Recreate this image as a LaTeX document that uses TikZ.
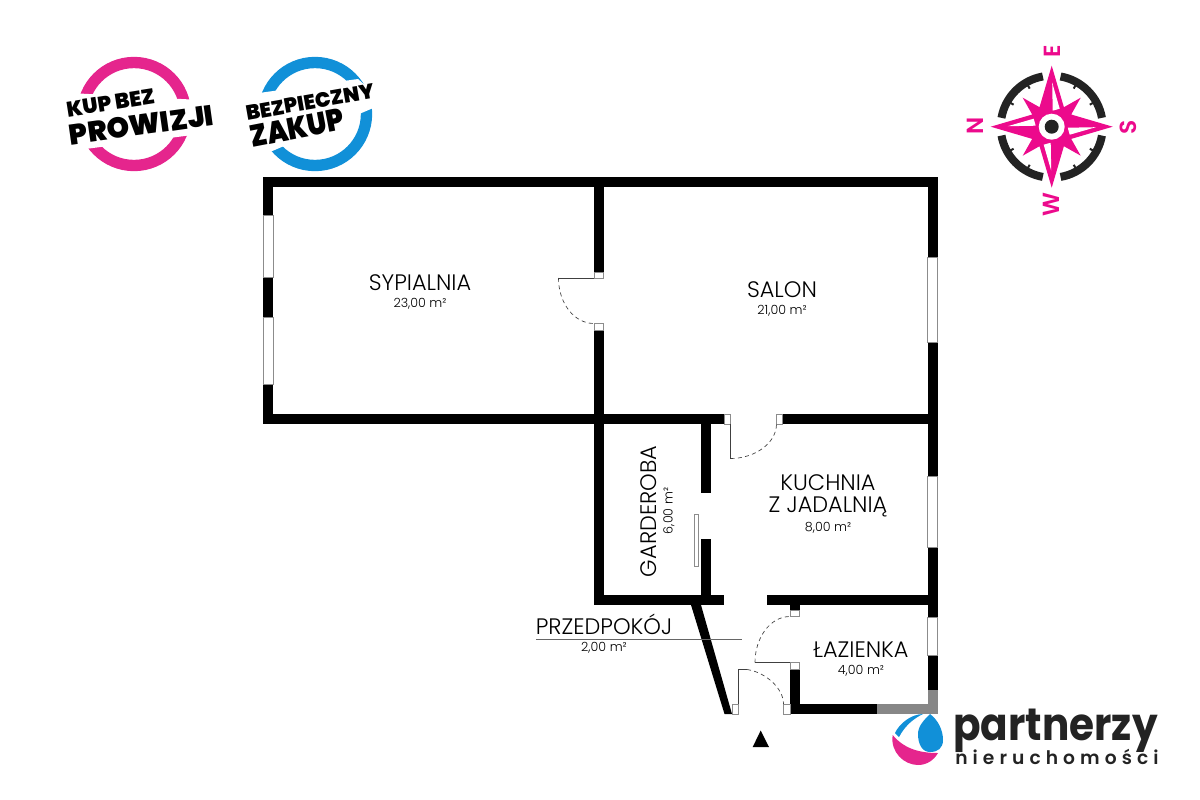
\documentclass[tikz,border=0pt]{standalone}
\usepackage{fontspec}
\usepackage{xcolor}
\setmainfont{Poppins Light}
\newfontfamily\heavyfont{Poppins Black}
\newfontfamily\boldfont{Poppins SemiBold}
\newfontfamily\logofont{Poppins Bold}
\definecolor{rosepink}{HTML}{E5258D}
\definecolor{skyblue}{HTML}{1190D8}
\definecolor{compasspink}{HTML}{EC0A8C}
\definecolor{coal}{HTML}{232323}
\tikzset{
wall/.style={fill=black},
greywall/.style={fill=black!47},
capbox/.style={fill=white,draw=black!45,line width=.6pt},
leaf/.style={draw=black!75,line width=.6pt},
swing/.style={draw=black!75,line width=.5pt,dash pattern=on 3pt off 2.5pt},
roomname/.style={font=\fontsize{16.8}{18}\selectfont,inner sep=0pt,align=center},
roomarea/.style={font=\fontsize{9.5}{11}\selectfont,inner sep=0pt},
compassletter/.style={font=\boldfont\fontsize{17.5}{18}\selectfont\color{compasspink},inner sep=0pt,rotate=90},
}
\begin{document}
\begin{tikzpicture}[x=.75pt,y=-.75pt]
\useasboundingbox (0,0) rectangle (1200,800);

\fill[wall] (263,177) rectangle (937.5,187);
\fill[wall] (263,177) rectangle (273,424);
\fill[wall] (263,414) rectangle (724.5,424);
\fill[wall] (782.5,414) rectangle (937.5,424);
\fill[wall] (927.5,177) rectangle (937.5,690);
\fill[wall] (594,187) rectangle (603.5,272);
\fill[wall] (594,330) rectangle (603.5,605);
\fill[wall] (701,424) rectangle (710.5,492.5);
\fill[wall] (701,539) rectangle (710.5,595);
\fill[wall] (594,595) rectangle (724,605);
\fill[wall] (767,595) rectangle (927.5,605);
\fill[wall] (790,605) rectangle (799.5,610);
\fill[wall] (790,669) rectangle (799.5,704);
\fill[wall] (790,704) rectangle (877,714);
\fill[wall] (691,605) -- (701,605) -- (732,714) -- (724.5,714) -- cycle;
\fill[greywall] (877,704) rectangle (937.5,714);
\fill[greywall] (927.5,690) rectangle (937.5,714);

\foreach \ya/\yb in {215/277,317/384}
  \draw[capbox] (263,\ya) rectangle (273,\yb);
\foreach \ya/\yb in {257/342,476/547,617/655}
  \draw[capbox] (927.5,\ya) rectangle (937.5,\yb);
\draw[capbox] (694,514.5) rectangle (698.5,566.5);

\draw[capbox] (594,272) rectangle (603.5,278);
\draw[capbox] (594,323.5) rectangle (603.5,330);
\draw[capbox] (724.5,414) rectangle (730.5,424);
\draw[capbox] (776.5,414) rectangle (782.5,424);
\draw[capbox] (790,610) rectangle (799.5,616.5);
\draw[capbox] (790,662.5) rectangle (799.5,669);
\draw[capbox] (732,704) rectangle (738,714);
\draw[capbox] (783.5,704) rectangle (790,714);

\draw[leaf] (594,278) -- (558.5,278);
\draw[swing] (558.5,278) .. controls (558.5,303) and (574,323.5) .. (594,323.5);
\draw[leaf] (730.5,424) -- (730.5,458.5);
\draw[swing] (730.5,458.5) .. controls (755,458.5) and (776.5,443) .. (776.5,424);
\draw[leaf] (790,662.5) -- (755,662.5);
\draw[swing] (755,662.5) .. controls (755,638) and (770,616.5) .. (790,616.5);
\draw[leaf] (738,704) -- (738,669.5) -- (747,669.5);
\draw[swing] (747,669.5) .. controls (765,672) and (783.5,688) .. (783.5,704);

\fill[black] (760.7,730.5) -- (769,747) -- (752.7,747) -- cycle;

\node[roomname] (sypialnia) at (420,283) {SYPIALNIA};
\node[roomarea] (sypialniaarea) at (420,304) {23,00 m²};
\node[roomname] (salon) at (782,290) {SALON};
\node[roomarea] (salonarea) at (782,311) {21,00 m²};
\node[roomname] (kuchnia) at (828,483) {KUCHNIA};
\node[roomname] (jadalnia) at (828,506.5) {Z JADALNIĄ};
\node[roomarea] (kuchniaarea) at (828,528) {8,00 m²};
\node[roomname,rotate=90] (garderoba) at (649,511.5) {GARDEROBA};
\node[roomarea,rotate=90] (garderobaarea) at (669,511) {6,00 m²};
\node[roomname] (lazienka) at (861,650) {ŁAZIENKA};
\node[roomarea] (lazienkaarea) at (861,671) {4,00 m²};
\node[roomname] (przedpokoj) at (604,624.5) {PRZEDPOKÓJ};
\node[roomarea] (przedpokojarea) at (604,648) {2,00 m²};
\coordinate (leaderend) at (741.5,639);
\draw[draw=black!60,line width=.7pt] (536,639) -- (leaderend);

\draw[rosepink,line width=8.5pt] (134,114) circle[radius=51.5];
\fill[white] (70,93) -- (200,100) -- (200,134) -- (70,151) -- cycle;
\node[inner sep=0pt,rotate=9,font=\heavyfont\fontsize{16}{16}\selectfont] (kupbez) at (110.5,103) {KUP BEZ};
\node[inner sep=0pt,rotate=8,font=\heavyfont\fontsize{21.5}{22}\selectfont] (prowizji) at (141.5,125) {PROWIZJI};

\draw[skyblue,line width=8.5pt] (315,114) circle[radius=51.5];
\fill[white] (245,95) -- (358,79) -- (385,103) -- (270,152) -- (245,155) -- cycle;
\node[inner sep=0pt,rotate=10,font=\heavyfont\fontsize{15.5}{16}\selectfont] (bezpieczny) at (310,102) {BEZPIECZNY};
\node[inner sep=0pt,rotate=11,xscale=.88,font=\heavyfont\fontsize{23}{23}\selectfont] (zakup) at (297,128) {ZAKUP};

\begin{scope}[shift={(1051.7,126.7)}]
\foreach \a in {0,90,180,270}{
  \draw[coal,line width=6pt] (\a+10:51) arc (\a+10:\a+80:51);
  \draw[coal,line width=1.5pt] (\a+30:49) -- (\a+30:44);
  \draw[coal,line width=1.5pt] (\a+60:49) -- (\a+60:44);
}
\fill[compasspink] (0:61)
  \foreach \a in {0,90,180,270}{
    -- (\a+32:23) -- (\a+45:41) -- (\a+58:23) -- (\a+90:61)
  } -- cycle;
\foreach \a in {0,90,180,270}
  \fill[white,rotate=\a] (.5,-44) -- (8,-18) -- (1,-16) -- cycle;
\fill[compasspink] (0,0) circle[radius=16];
\fill[white] (0,0) circle[radius=13];
\fill[coal] (0,0) circle[radius=7];
\end{scope}
\node[compassletter] (east) at (1052,51) {E};
\node[compassletter] (south) at (1128,127) {S};
\node[compassletter] (west) at (1051.5,205) {W};
\node[compassletter] (north) at (975,126) {N};

\fill[skyblue] (930,714) .. controls (938,720) and (943,730) .. (943,740)
  .. controls (943,748) and (938,752) .. (930,752)
  .. controls (922,752) and (918,744) .. (918,734)
  .. controls (918,726) and (924,720) .. (930,714) -- cycle;
\fill[skyblue] (895,733) .. controls (899,724) and (911,714) .. (923,714)
  .. controls (915,718) and (906,724) .. (899,737) -- cycle;
\fill[rosepink] (892.7,735) .. controls (890,752) and (904,765) .. (918,765)
  .. controls (927,765) and (934,760) .. (938,753)
  .. controls (922,753) and (905,750) .. (892.7,735) -- cycle;
\node[inner sep=0pt,anchor=base west,xscale=.895,font=\logofont\fontsize{34}{34}\selectfont,text=coal] (partnerzy) at (953,740) {partnerzy};
\node[inner sep=0pt,anchor=base west,font=\boldfont\fontsize{14}{14}\selectfont,text=coal] (nieruchomosci) at (955,764) {n\hspace{3.8pt}i\hspace{3.8pt}e\hspace{3.8pt}r\hspace{3.8pt}u\hspace{3.8pt}c\hspace{3.8pt}h\hspace{3.8pt}o\hspace{3.8pt}m\hspace{3.8pt}o\hspace{3.8pt}ś\hspace{3.8pt}c\hspace{3.8pt}i};
\end{tikzpicture}
\end{document}
